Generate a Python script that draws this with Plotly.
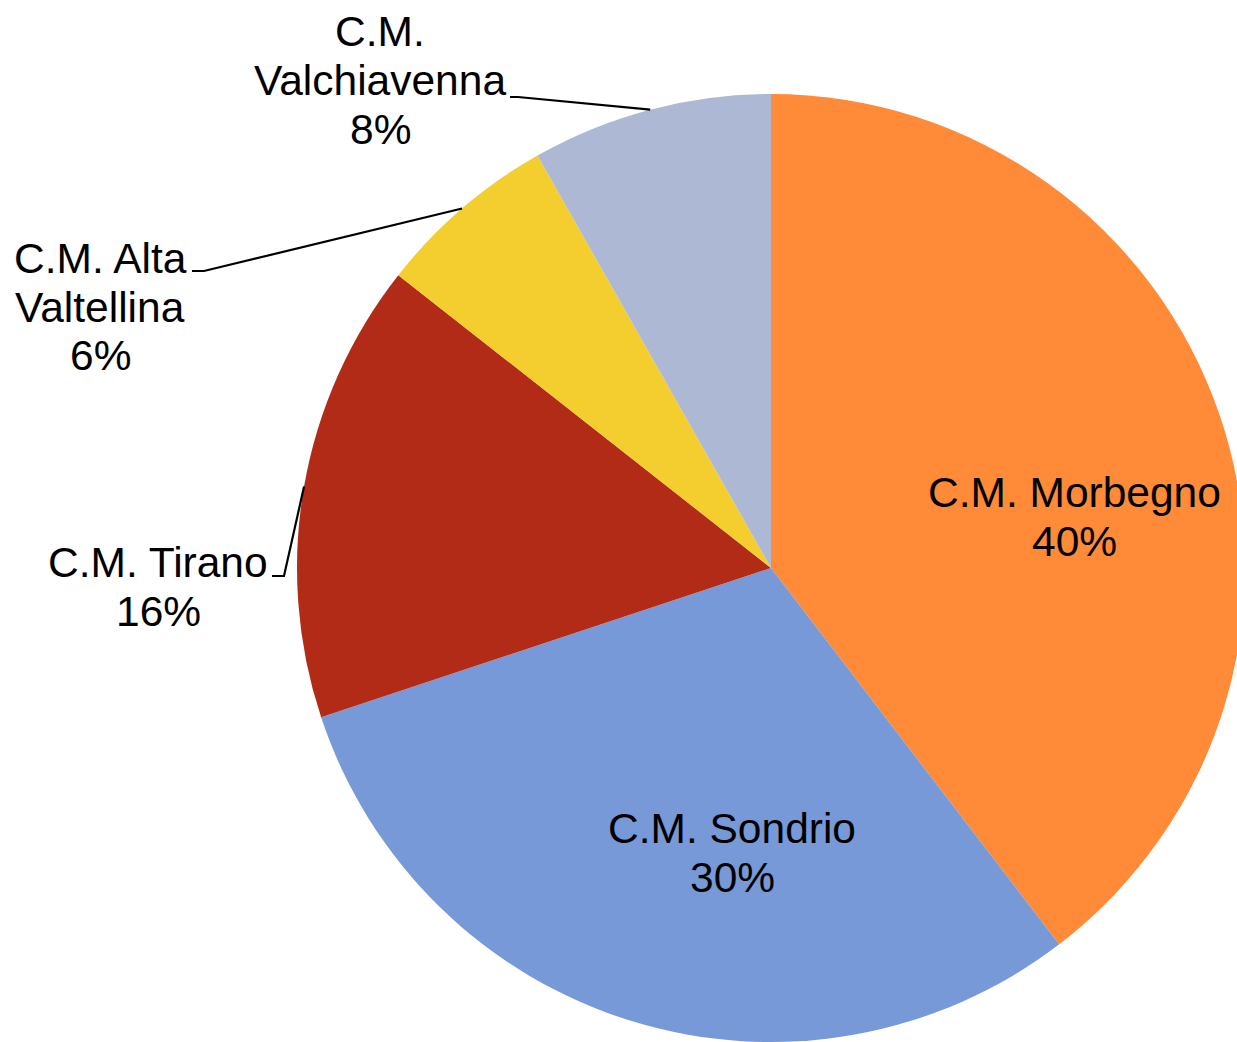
import math
import plotly.graph_objects as go

# ---- data ----
labels = ["C.M. Morbegno", "C.M. Sondrio", "C.M. Tirano", "C.M. Alta Valtellina", "C.M. Valchiavenna"]
values = [39.6, 30.3, 15.7, 6.2, 8.2]
colors = ["#FF8A38", "#7799D7", "#B22B17", "#F4CE2E", "#ADB8D5"]
label_lines = [
    ["C.M. Morbegno"],
    ["C.M. Sondrio"],
    ["C.M. Tirano"],
    ["C.M. Alta", "Valtellina"],
    ["C.M.", "Valchiavenna"],
]

# ---- layout geometry (pixels) ----
W, H = 1246, 1042
CX, CY, R = 771, 568, 474
FONT = "Liberation Sans, Arial, sans-serif"
FS = 42.5
LINE = 49
# label centre positions (px)
label_pos = [(1074, 517), (732, 853), (158, 587), (100, 307), (380, 80)]
# outside labels: elbow point and end of short horizontal segment (px), None if inside
leader = [None, None, ((284, 576), (272, 576)), ((204, 271), (192, 271)), ((518, 97), (510, 97))]

def px(x):
    return x / W

def py(y):
    return 1 - y / H

total = sum(values)
fig = go.Figure(go.Pie(
    labels=labels, values=values, sort=False, direction="clockwise", rotation=0,
    marker=dict(colors=colors, line=dict(width=0)),
    textinfo="none", hoverinfo="label+percent", showlegend=False,
    domain=dict(x=[px(CX - R), px(CX + R)], y=[py(CY + R), py(CY - R)]),
))

annotations = []
shapes = []
cum = 0.0
for i, v in enumerate(values):
    frac = v / total
    mid = (cum + frac / 2) * 2 * math.pi
    cum += frac
    lines = label_lines[i] + [f"{round(frac * 100)}%"]
    lx, ly = label_pos[i]
    n = len(lines)
    for k, t in enumerate(lines):
        yy = ly + (k - (n - 1) / 2) * LINE
        annotations.append(dict(
            x=px(lx), y=py(yy), xref="paper", yref="paper", text=t, showarrow=False,
            font=dict(family=FONT, size=FS, color="#000000"), xanchor="center", yanchor="middle",
        ))
    if leader[i] is not None:
        sx = CX + R * math.sin(mid)
        sy = CY - R * math.cos(mid)
        (ex, ey), (hx, hy) = leader[i]
        path = f"M {px(sx)} {py(sy)} L {px(ex)} {py(ey)} L {px(hx)} {py(hy)}"
        shapes.append(dict(type="path", xref="paper", yref="paper", path=path,
                           line=dict(color="#000000", width=2.2)))

fig.update_layout(
    width=W, height=H, margin=dict(l=0, r=0, t=0, b=0),
    paper_bgcolor="white", plot_bgcolor="white",
    annotations=annotations, shapes=shapes,
)

fig.write_html("out.html", config={"displayModeBar": False},
               post_script="document.body.style.margin='0';document.body.style.overflow='hidden';")
